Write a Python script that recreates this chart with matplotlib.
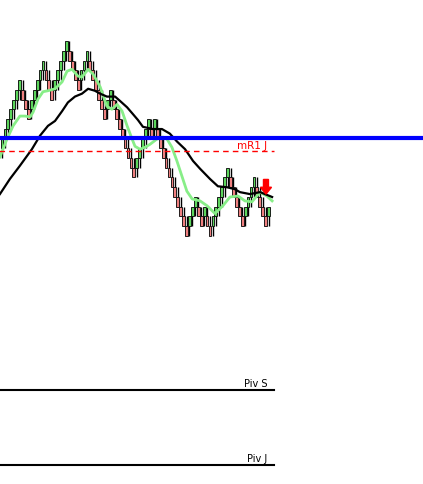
import numpy as np
import matplotlib
matplotlib.use('Agg')
import matplotlib.pyplot as plt

# renko bricks: run lengths of up (+) / down (-) bricks, first brick opens at start_level
brick_runs = [7, -3, 5, -3, 5, -4, 3, -6, 2, -8, 5, -1, 1, -11, 3, -2, 1, -2, 6, -5, 4, -4, 1]
start_level = 9

# moving averages (bar index, level)
fast_ma_x = [-0.7, 1.7, 3.8, 6.1, 7.9, 9.6, 10.6, 12.3, 14.0, 15.7, 18.1, 20.5, 22.2, 23.9,
             25.9, 27.3, 29.4, 31.1, 33.5, 35.8, 37.5, 39.3, 41.0, 42.7, 44.4, 45.4, 47.1,
             48.8, 50.5, 52.9, 55.0, 56.3, 58.0, 59.7, 61.4, 63.1, 64.9, 67.6, 70.0, 72.7,
             75.4, 77.8, 80.6, 82.9, 85.3, 88.1, 90.4, 92.2]
fast_ma_y = [8.1, 9.95, 11.3, 12.3, 12.3, 12.2, 12.7, 14.05, 14.8, 14.9, 15.1, 15.8, 16.9, 17.1,
             16.4, 16.3, 17.1, 16.6, 15.3, 13.3, 13.0, 13.5, 12.8, 11.3, 9.95, 9.2, 8.9,
             9.1, 9.4, 9.95, 10.15, 9.95, 9.1, 7.7, 6.15, 4.6, 3.8, 3.6, 3.1, 2.3,
             3.1, 4.0, 4.1, 3.6, 3.5, 4.5, 4.1, 3.6]
slow_ma_x = [-0.7, 2.7, 6.1, 10.2, 13.0, 15.7, 18.1, 20.5, 22.5, 24.9, 27.3, 29.4, 31.7, 33.5,
             35.8, 38.6, 40.3, 42.7, 44.7, 46.4, 48.1, 51.5, 54.6, 57.3, 59.7, 62.5, 65.2,
             67.6, 71.0, 73.7, 76.8, 79.5, 81.2, 84.6, 88.1, 92.2]
slow_ma_y = [4.3, 5.85, 7.2, 8.9, 10.3, 11.3, 11.8, 12.8, 13.7, 14.3, 14.6, 15.1, 14.9, 14.6,
             14.3, 14.3, 13.85, 13.2, 12.5, 11.9, 11.2, 10.97, 10.97, 10.5, 9.7, 8.9, 7.7,
             6.9, 5.85, 5.1, 5.0, 4.8, 4.5, 4.3, 4.5, 4.0]

blue_level = 10.05
mr1_level = 8.72
piv_names = ['Piv S', 'Piv J']
piv_levels = [-15.8, -23.5]
arrow_bar = 90.1
arrow_level = 4.3

# build renko opens / closes
opens, closes = [], []
level = start_level
last_dir = 0
for run in brick_runs:
    d = 1 if run > 0 else -1
    for _ in range(abs(run)):
        if last_dir == 0 or d == last_dir:
            o = level
        else:
            o = level - last_dir
        c = o + d
        opens.append(o)
        closes.append(c)
        level = c
        last_dir = d
opens = np.array(opens, dtype=float)
closes = np.array(closes, dtype=float)
idx = np.arange(len(opens))
up = closes > opens

fig = plt.figure(figsize=(4.23, 4.85), dpi=100)
ax = fig.add_axes([0, 0, 1, 1])

green = '#5cd65c'
red = '#f08080'

# wick one brick back past the open
wick_end = np.where(up, opens - 1, opens + 1)
ax.vlines(idx, np.minimum(wick_end, opens), np.maximum(wick_end, opens),
          color='black', lw=1, zorder=2)
ax.bar(idx, closes - opens, bottom=opens, width=0.95,
       color=np.where(up, green, red), edgecolor='black', linewidth=0.6, zorder=3)

ax.plot(fast_ma_x, fast_ma_y, color='#88ee88', lw=2, zorder=4)
ax.plot(slow_ma_x, slow_ma_y, color='black', lw=1.6, zorder=4)

last_x = len(opens) + 1
ax.axhline(blue_level, color='#0000ff', lw=3, zorder=5)
ax.plot([-1, last_x], [mr1_level, mr1_level], color='red', lw=1, ls=(0, (4, 3)), zorder=5)
ax.text(last_x - 2.5, mr1_level + 0.15, 'mR1 J', color='red', fontsize=7.5,
        ha='right', va='bottom')
for name, lv in zip(piv_names, piv_levels):
    ax.plot([-1, last_x], [lv, lv], color='black', lw=1.5, zorder=5)
    ax.text(last_x - 2.5, lv + 0.25, name, color='black', fontsize=7, ha='right', va='bottom')

ax.arrow(arrow_bar, arrow_level + 1.5, 0, -0.8, width=1.7, head_width=3.8,
         head_length=0.7, length_includes_head=False, color='red', zorder=6)

ax.set_xlim(-0.68, 143.7)
ax.set_ylim(-25.44, 24.31)
ax.axis('off')

fig.savefig('out.png', dpi=100)
